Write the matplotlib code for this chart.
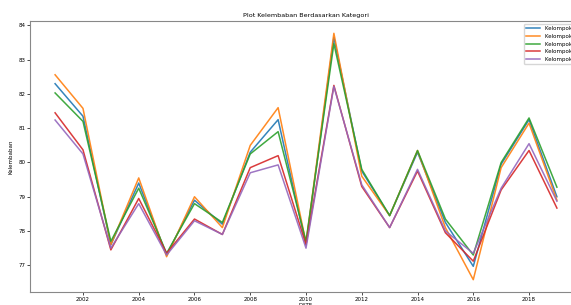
import matplotlib
matplotlib.use('Agg')
import matplotlib.pyplot as plt

years = list(range(2001, 2020))

kelompok_1 = [82.30, 81.35, 77.60, 79.40, 77.30, 78.90, 78.20, 80.30, 81.25, 77.60,
              83.65, 79.75, 78.45, 80.30, 78.25, 76.97, 79.95, 81.25, 79.00]
kelompok_2 = [82.56, 81.58, 77.60, 79.55, 77.25, 79.00, 78.10, 80.50, 81.60, 77.65,
              83.77, 79.60, 78.45, 80.35, 78.10, 76.58, 79.85, 81.15, 78.90]
kelompok_3 = [82.03, 81.20, 77.70, 79.25, 77.35, 78.80, 78.25, 80.25, 80.90, 77.70,
              83.47, 79.80, 78.45, 80.35, 78.35, 77.30, 80.00, 81.30, 79.28]
kelompok_4 = [81.45, 80.37, 77.45, 78.95, 77.35, 78.35, 77.90, 79.85, 80.20, 77.60,
              82.25, 79.30, 78.10, 79.75, 77.95, 77.12, 79.20, 80.35, 78.67]
kelompok_5 = [81.24, 80.25, 77.50, 78.80, 77.30, 78.30, 77.90, 79.70, 79.93, 77.50,
              82.22, 79.35, 78.10, 79.80, 78.00, 77.35, 79.25, 80.55, 78.87]

series = [kelompok_1, kelompok_2, kelompok_3, kelompok_4, kelompok_5]
labels = ['Kelompok 1', 'Kelompok 2', 'Kelompok 3', 'Kelompok 4', 'Kelompok 5']

fig = plt.figure(figsize=(5.71, 3.05), dpi=100)
# axes runs past the right edge, like the cropped original
ax = fig.add_axes([30 / 571, 13 / 305, 552 / 571, 271 / 305])

for values, label in zip(series, labels):
    ax.plot(years, values, label=label, linewidth=1.1, alpha=0.9)

ax.set_title('Plot Kelembaban Berdasarkan Kategori', fontsize=4.6, pad=3)
ax.set_xlabel('DATE', fontsize=4, labelpad=1)
ax.set_ylabel('Kelembaban', fontsize=4, labelpad=3)
ax.tick_params(labelsize=4, length=2, width=0.5, pad=1.5)
ax.set_xticks(range(2002, 2020, 2))
for spine in ax.spines.values():
    spine.set_color('#888888')
    spine.set_linewidth(0.8)
ax.legend(loc='upper right', fontsize=4, handlelength=2.5)

fig.savefig('out.png', dpi=100)
